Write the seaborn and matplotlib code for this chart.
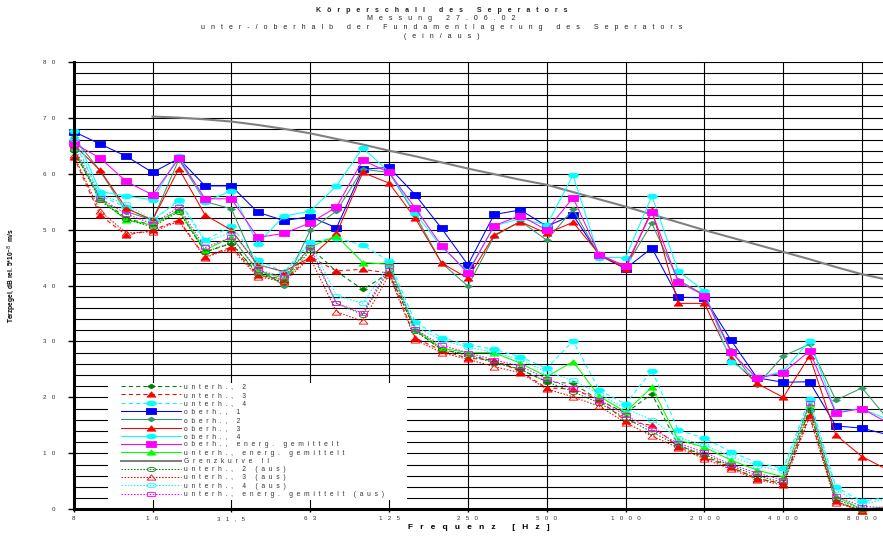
import numpy as np
import matplotlib
matplotlib.use("Agg")
import matplotlib.pyplot as plt
import seaborn as sns
from matplotlib.path import Path
from matplotlib.patches import Rectangle

plt.rcParams['font.family'] = ['Liberation Sans', 'DejaVu Sans']

# ---------------- data ----------------
freq_labels = ["8", "10", "12,5", "16", "20", "25", "31,5", "40", "50", "63", "80", "100",
               "125", "160", "200", "250", "315", "400", "500", "630", "800", "1000",
               "1250", "1600", "2000", "2500", "3150", "4000", "5000", "6300", "8000", "10000"]
tick_labels = ["8", "16", "31,5", "63", "125", "250", "500", "1000", "2000", "4000", "8000"]
y_tick_labels = ["0", "10", "20", "30", "40", "50", "60", "70", "80"]

unterh_2 = [64.0, 55.7, 52.0, 50.8, 53.5, 46.0, 47.5, 42.2, 41.0, 46.8, 42.5, 39.3, 42.2, 32.0, 28.5, 27.7,
            26.4, 25.0, 22.8, 22.5, 19.5, 17.2, 20.6, 11.5, 9.5, 7.6, 5.5, 4.6, 18.0, 1.4, -0.3, 0.0]
unterh_3 = [63.0, 52.6, 49.0, 49.9, 51.7, 45.1, 46.9, 41.9, 41.0, 45.1, 42.6, 42.9, 42.2, 30.6, 28.4, 27.0,
            26.7, 24.6, 21.7, 21.5, 19.5, 15.8, 15.0, 11.2, 9.3, 7.5, 5.5, 4.6, 16.9, 1.4, -0.3, 0.0]
unterh_4 = [66.0, 56.0, 54.0, 51.5, 55.3, 48.1, 50.6, 44.6, 42.4, 47.8, 48.5, 47.2, 44.4, 33.4, 30.7, 29.4,
            28.6, 27.2, 25.2, 30.1, 21.3, 18.8, 24.8, 14.2, 12.7, 10.3, 8.3, 7.3, 19.8, 4.0, 1.4, 2.2]
oberh_1 = [67.5, 65.3, 63.1, 60.2, 62.7, 57.8, 57.8, 53.1, 51.6, 52.3, 50.3, 60.8, 61.1, 56.2, 50.2, 43.7,
           52.7, 53.5, 50.6, 52.6, 45.4, 43.0, 46.7, 37.9, 37.8, 30.3, 23.5, 22.7, 22.8, 14.9, 14.5, 13.3]
oberh_2 = [66.5, 60.5, 53.2, 51.7, 62.5, 55.0, 53.7, 43.1, 40.0, 49.9, 53.3, 60.8, 60.2, 52.6, 44.0, 39.9,
           48.8, 51.5, 48.1, 53.6, 45.4, 43.3, 51.1, 41.0, 38.3, 28.5, 22.2, 27.4, 29.5, 19.5, 21.7, 16.0]
oberh_3 = [65.2, 60.6, 53.8, 51.7, 60.9, 52.6, 49.9, 43.7, 42.5, 45.0, 49.3, 60.2, 58.3, 52.0, 44.0, 41.3,
           49.0, 51.4, 49.3, 51.3, 45.6, 43.0, 53.5, 36.8, 36.8, 27.0, 22.5, 20.0, 27.4, 13.3, 9.4, 7.0]
oberh_4 = [67.7, 56.8, 56.0, 55.3, 63.2, 55.0, 56.9, 47.5, 52.4, 53.3, 57.8, 64.6, 60.3, 52.9, 46.9, 42.5,
           50.6, 52.0, 50.8, 59.7, 45.0, 45.0, 56.0, 42.6, 39.0, 26.4, 23.4, 24.7, 30.1, 17.4, 18.0, 16.0]
oberh_energ = [65.4, 62.8, 58.6, 56.2, 62.7, 55.5, 55.5, 48.6, 49.3, 51.2, 54.0, 62.4, 60.2, 53.8, 47.1, 42.2,
               50.7, 52.5, 49.9, 55.7, 45.5, 43.5, 53.1, 40.7, 38.2, 28.2, 23.4, 24.4, 28.3, 17.2, 18.0, 15.4]
unterh_energ = [64.5, 55.5, 51.7, 50.8, 53.5, 46.3, 48.7, 42.6, 41.3, 46.9, 48.9, 44.1, 43.8, 32.2, 28.8, 28.0,
                28.0, 26.1, 23.7, 26.4, 20.2, 17.4, 21.8, 12.4, 11.1, 8.8, 7.0, 5.8, 18.9, 2.3, 0.0, 0.5]
grenz_start = 3  # Grenzkurve starts at 16 Hz
grenzkurve = [70.2, 70.0, 69.7, 69.3, 68.7, 68.0, 67.2, 66.2, 65.2, 64.1, 63.1, 62.0, 60.9, 59.9, 58.9,
              58.0, 56.7, 55.4, 54.1, 52.7, 51.3, 49.9, 48.6, 47.3, 46.0, 44.7, 43.3, 42.0, 41.0]
unterh_2_aus = [64.2, 55.2, 51.8, 50.5, 53.2, 46.0, 47.6, 42.0, 40.6, 46.3, 36.8, 34.8, 42.8, 31.8, 28.6, 27.5,
                26.2, 25.0, 22.8, 21.0, 19.0, 16.3, 13.8, 11.4, 9.8, 7.8, 6.0, 4.8, 17.8, 1.8, 0.0, 0.0]
unterh_3_aus = [63.3, 53.3, 49.4, 49.6, 51.5, 45.0, 46.6, 41.6, 40.7, 44.9, 35.3, 33.6, 41.9, 30.3, 28.0, 26.8,
                25.5, 24.4, 21.5, 20.1, 18.4, 15.5, 13.1, 11.0, 9.0, 7.2, 5.3, 4.3, 16.5, 1.2, -0.3, 0.0]
unterh_4_aus = [66.2, 56.3, 54.5, 51.8, 55.0, 47.8, 49.5, 43.9, 42.2, 47.6, 38.2, 36.8, 43.7, 32.7, 30.2, 29.0,
                28.0, 26.8, 24.5, 23.1, 20.6, 18.0, 16.0, 12.8, 11.5, 9.5, 7.8, 6.8, 19.5, 3.5, 0.8, 2.0]
unterh_energ_aus = [65.0, 55.6, 52.8, 51.0, 54.0, 46.8, 48.6, 42.8, 41.5, 46.9, 36.8, 35.1, 43.4, 32.2, 29.3, 28.0,
                    26.7, 25.6, 23.3, 21.6, 19.6, 16.8, 14.3, 11.8, 10.2, 8.0, 6.5, 5.2, 19.0, 2.4, 0.5, 0.3]

title_lines = ["Körperschall des Seperators", "Messung 27.06.02",
               "unter-/oberhalb der Fundamentlagerung des Seperators", "(ein/aus)"]


def sp(s, n=2):
    return (" " * n).join(s)


# ---------------- markers ----------------
RECT = Path([(-1, -.5), (1, -.5), (1, .5), (-1, .5), (-1, -.5)], closed=True)
th = np.linspace(0, 2 * np.pi, 41)
ELL = Path(np.c_[np.cos(th), 0.5 * np.sin(th)], closed=True)
DIAM = Path([(-1, 0), (0, .6), (1, 0), (0, -.6), (-1, 0)], closed=True)
TRI = Path([(-1, -.6), (1, -.6), (0, .6), (-1, -.6)], closed=True)

DASH = (0, (4, 3))
DOT = (0, (1.5, 1.5))

series = [
    ("unterh., 2", unterh_2, "#008000", DIAM, 5.5, DASH, True),
    ("unterh., 3", unterh_3, "#FF0000", TRI, 6.3, DASH, True),
    ("unterh., 4", unterh_4, "#00FFFF", ELL, 7, DASH, True),
    ("oberh., 1", oberh_1, "#0000FF", RECT, 7.3, "-", True),
    ("oberh., 2", oberh_2, "#339966", DIAM, 5.5, "-", True),
    ("oberh., 3", oberh_3, "#FF0000", TRI, 6.3, "-", True),
    ("oberh., 4", oberh_4, "#00FFFF", ELL, 7, "-", True),
    ("oberh., energ. gemittelt", oberh_energ, "#FF00FF", RECT, 7.3, "-", True),
    ("unterh., energ. gemittelt", unterh_energ, "#00FF00", TRI, 6.3, "-", True),
    ("Grenzkurve II", grenzkurve, "#808080", None, 0, "-", True),
    ("unterh., 2 (aus)", unterh_2_aus, "#008000", ELL, 6, DOT, False),
    ("unterh., 3 (aus)", unterh_3_aus, "#FF0000", TRI, 6.3, DOT, False),
    ("unterh., 4 (aus)", unterh_4_aus, "#00FFFF", ELL, 6.5, DOT, False),
    ("unterh., energ. gemittelt (aus)", unterh_energ_aus, "#FF00FF", RECT, 6.3, DOT, False),
]

# ---------------- figure ----------------
W, H = 883, 537
fig = plt.figure(figsize=(W / 100, H / 100), dpi=100)
x0_px, step_px = 73.7, 26.28
y0_px, y80_px = 509.3, 61.7
ax = fig.add_axes([x0_px / W, (H - y0_px) / H, (W - x0_px) / W, (y0_px - y80_px) / H])

for k, (lab, vals, col, mk, ms, ls, filled) in enumerate(series):
    if lab == "Grenzkurve II":
        xs = np.arange(grenz_start, grenz_start + len(vals))
        sns.lineplot(x=xs, y=vals, ax=ax, color=col, linewidth=1.5, linestyle="-",
                     label=sp(lab), estimator=None, errorbar=None, zorder=2)
        continue
    xs = np.arange(len(vals))
    sns.lineplot(x=xs, y=vals, ax=ax, color=col, linewidth=0.75, linestyle=ls,
                 marker=mk, markersize=ms, markerfacecolor=col if filled else "none",
                 markeredgecolor=col, markeredgewidth=0.6, label=sp(lab),
                 estimator=None, errorbar=None, clip_on=False, zorder=3 + k * 0.01)

ax.set_xlim(0, (W - x0_px) / step_px)
ax.set_ylim(0, 80)

ax.set_xticks(np.arange(0, 31, 3))
ax.set_xticklabels([sp(t, 3) for t in tick_labels], fontsize=4.5, color="#333333")
ax.set_yticks(np.arange(0, 81, 10))
ax.set_yticklabels([sp(t, 3) for t in y_tick_labels], fontsize=4.5, color="#333333")
ax.set_yticks(np.arange(0, 81, 2), minor=True)

ax.set_axisbelow(True)
ax.grid(which="major", axis="both", color="black", linewidth=0.8)
ax.grid(which="minor", axis="y", color="black", linewidth=0.8)
ax.tick_params(axis="y", which="major", length=4, width=1, direction="out", pad=9)
ax.tick_params(axis="y", which="minor", length=0)
ax.tick_params(axis="x", which="major", length=2, width=1, direction="out", pad=3)

for s in ["top", "right"]:
    ax.spines[s].set_visible(False)
for s in ["left", "bottom"]:
    ax.spines[s].set_linewidth(2.2)
    ax.spines[s].set_color("black")
    ax.spines[s].set_zorder(10)

ax.set_xlabel(sp("Frequenz [Hz]", 3), fontsize=6, fontweight="bold")
ax.xaxis.set_label_coords(0.5, -0.033)
ax.set_ylabel("Terzpegel, dB rel. 5*10$^{-8}$  m/s", fontsize=4.8, fontweight="bold")
ax.yaxis.set_label_coords(-0.067, 0.523)

# white legend box
ax.add_patch(Rectangle((108 / W, (H - 500) / H), 299 / W, 117 / H, transform=fig.transFigure,
                       facecolor="white", edgecolor="none", zorder=1.5))
handles, labels = ax.get_legend_handles_labels()
leg = ax.legend(handles, labels, loc="upper left", bbox_to_anchor=(121 / W, 1 - 383.5 / H),
                bbox_transform=fig.transFigure, frameon=False, fontsize=4.8,
                handlelength=9.0, handletextpad=0.4, labelspacing=0.19, borderpad=0,
                borderaxespad=0, numpoints=1)
for t in leg.get_texts():
    t.set_color("#333333")

ys = [10, 19, 28, 36]
for i, (line, y) in enumerate(zip(title_lines, ys)):
    fig.text(0.5, 1 - y / H, sp(line, 3), ha="center", va="center", fontsize=5,
             fontweight="bold" if i == 0 else "normal", color="#222222")

fig.savefig("out.png", dpi=100)
